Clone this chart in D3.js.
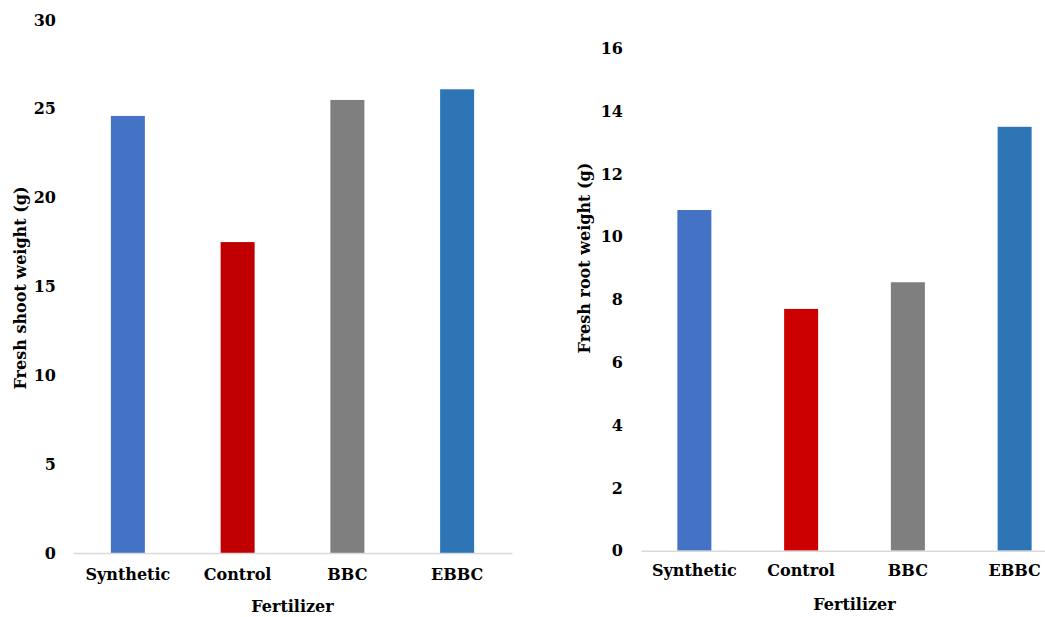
<!DOCTYPE html>
<html>
<head>
<meta charset="utf-8">
<script src="https://cdn.jsdelivr.net/npm/d3@7"></script>
<style>
  body { margin: 0; background: #fff; }
</style>
</head>
<body>
<div id="viz"></div>
<script>
// data
const fertilizers = ["Synthetic", "Control", "BBC", "EBBC"];
const shootWeight = [24.6, 17.5, 25.5, 26.1];
const rootWeight = [10.85, 7.7, 8.55, 13.5];
const shootColors = ["#4472C4", "#C00000", "#7F7F7F", "#2E75B6"];
const rootColors = ["#4472C4", "#CC0000", "#7F7F7F", "#2E75B6"];

const outerWidth = 1045, outerHeight = 617,
    barWidth = 34,
    fontSize = 16,
    fontFamily = "'DejaVu Serif', serif";

const svg = d3.select("#viz").append("svg")
    .attr("width", outerWidth)
    .attr("height", outerHeight);

function styleText(sel) {
  sel.style("font-family", fontFamily)
     .style("font-weight", "bold")
     .style("font-size", fontSize + "px")
     .attr("fill", "#000");
}

// one panel of the figure
function drawPanel(opt) {
  const x = d3.scaleBand().domain(fertilizers).range(opt.xRange).padding(0);
  const y = d3.scaleLinear().domain(opt.yDomain).range(opt.yRange);

  const g = svg.append("g");

  // y tick labels, no line or ticks
  const yAxis = g.append("g")
      .attr("transform", "translate(" + opt.xRange[0] + ",0)")
      .call(d3.axisLeft(y).tickValues(opt.yTicks).tickSize(0).tickPadding(opt.tickPad));
  yAxis.select(".domain").remove();
  yAxis.selectAll("text").call(styleText);

  // bars
  g.selectAll("rect.bar")
    .data(opt.values)
    .join("rect")
      .attr("class", "bar")
      .attr("x", (d, i) => x(fertilizers[i]) + x.bandwidth() / 2 - barWidth / 2)
      .attr("y", d => y(d))
      .attr("width", barWidth)
      .attr("height", d => y(0) - y(d))
      .attr("fill", (d, i) => opt.colors[i]);

  // category axis
  const xAxis = g.append("g")
      .attr("transform", "translate(0," + y(0) + ")")
      .call(d3.axisBottom(x).tickSize(0).tickPadding(opt.xPad));
  xAxis.select(".domain").attr("stroke", "#d9d9d9").attr("stroke-width", 1.5);
  xAxis.selectAll("text").call(styleText);

  // axis titles
  g.append("text")
    .attr("x", (opt.xRange[0] + opt.xRange[1]) / 2)
    .attr("y", opt.xTitleY)
    .attr("text-anchor", "middle")
    .text("Fertilizer")
    .call(styleText);

  g.append("text")
    .attr("transform", "translate(" + opt.yTitleX + "," + opt.yTitleY + ") rotate(-90)")
    .attr("text-anchor", "middle")
    .attr("dy", "0.35em")
    .text(opt.yTitle)
    .call(styleText);
}

drawPanel({
  values: shootWeight,
  colors: shootColors,
  xRange: [73, 512],
  yDomain: [0, 30],
  yRange: [553, 20],
  yTicks: [0, 5, 10, 15, 20, 25, 30],
  tickPad: 17,
  xPad: 16,
  xTitleY: 612,
  yTitleX: 20,
  yTitleY: 288,
  yTitle: "Fresh shoot weight (g)"
});

drawPanel({
  values: rootWeight,
  colors: rootColors,
  xRange: [641, 1068],
  yDomain: [0, 16],
  yRange: [550.7, 48.3],
  yTicks: [0, 2, 4, 6, 8, 10, 12, 14, 16],
  tickPad: 18,
  xPad: 14,
  xTitleY: 610,
  yTitleX: 584,
  yTitleY: 258,
  yTitle: "Fresh root weight (g)"
});
</script>
</body>
</html>
